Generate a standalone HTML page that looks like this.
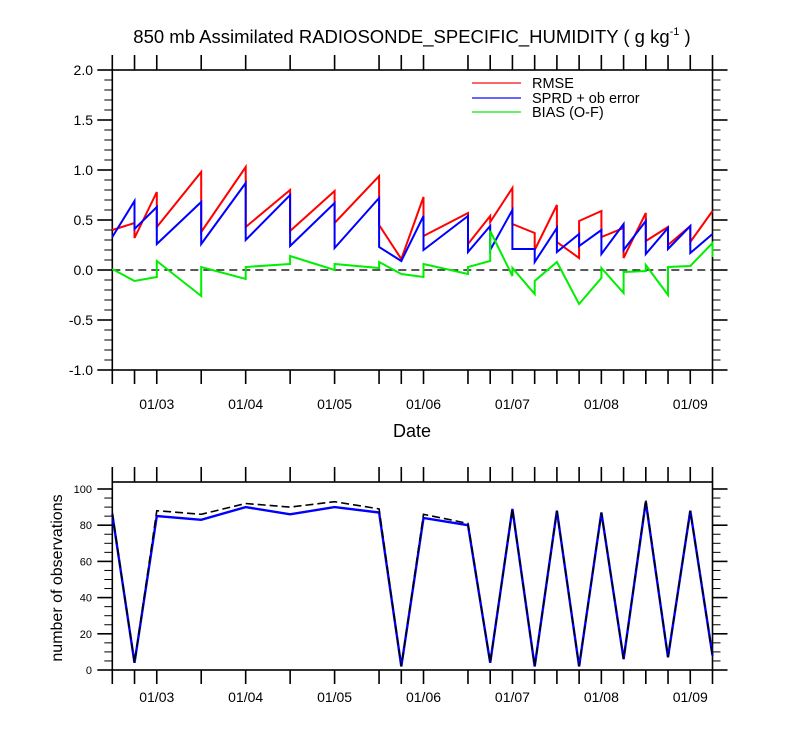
<!DOCTYPE html>
<html><head><meta charset="utf-8"><style>
body{margin:0;background:#fff;}
svg{display:block;font-family:"Liberation Sans",Arial,sans-serif;}
</style></head><body>
<svg id="chart" width="800" height="750" viewBox="0 0 800 750"></svg>
<script>
// times in days relative to 01/03 00Z
const times = [-0.5,-0.25,0,0.5,1.0,1.5,2.0,2.5,2.75,3.0,3.5,3.75,4.0,4.25,4.5,4.75,5.0,5.25,5.5,5.75,6.0,6.25];
const dateLabels = ["01/03","01/04","01/05","01/06","01/07","01/08","01/09"];
const dateDays = [0,1,2,3,4,5,6];
// [end value of previous bin, start value of next bin] per time
const rmseVals = [[0.40,0.40],[0.47,0.32],[0.78,0.43],[0.98,0.38],[1.03,0.43],[0.80,0.39],[0.79,0.47],[0.94,0.45],[0.11,0.11],[0.73,0.34],[0.57,0.26],[0.54,0.48],[0.82,0.46],[0.37,0.20],[0.65,0.28],[0.12,0.49],[0.59,0.33],[0.42,0.12],[0.57,0.29],[0.43,0.25],[0.44,0.28],[0.59,0.59]];
const sprdVals = [[0.33,0.33],[0.69,0.41],[0.63,0.26],[0.68,0.26],[0.87,0.30],[0.75,0.24],[0.67,0.22],[0.72,0.23],[0.09,0.09],[0.54,0.20],[0.54,0.18],[0.44,0.20],[0.60,0.21],[0.21,0.08],[0.42,0.18],[0.36,0.24],[0.40,0.16],[0.46,0.20],[0.49,0.16],[0.42,0.21],[0.44,0.17],[0.36,0.36]];
const biasVals = [[0.01,0.01],[-0.11,-0.11],[-0.07,0.09],[-0.26,0.03],[-0.09,0.03],[0.06,0.14],[0.00,0.06],[0.02,0.08],[-0.04,-0.04],[-0.07,0.06],[-0.04,0.03],[0.09,0.39],[-0.06,0.02],[-0.24,-0.11],[0.08,0.08],[-0.34,-0.34],[-0.08,0.02],[-0.23,-0.02],[-0.01,0.05],[-0.25,0.03],[0.04,0.04],[0.27,0.13]];
const obsUsed = [86,4,85,83,90,86,90,87,2,84,80,4,89,2,88,2,87,6,93,7,88,8];
const obsTotal = [87,4,88,86,92,90,93,89,2,86,81,4,89,2,88,2,87,6,94,7,88,8];
const topTicks = [2.0,1.5,1.0,0.5,0.0,-0.5,-1.0];
const obsTicks = [0,20,40,60,80,100];

const NS="http://www.w3.org/2000/svg";
const svg=document.getElementById('chart');
function el(tag,attrs,parent){const e=document.createElementNS(NS,tag);for(const k in attrs)e.setAttribute(k,attrs[k]);(parent||svg).appendChild(e);return e;}
const X0=112.3,X1=712.5,T0=-0.5,T1=6.25;
const xs=t=>X0+(t-T0)/(T1-T0)*(X1-X0);
const ty=v=>270-v*100;
const by=v=>670-v*1.81;

// title
let t=el('text',{x:412,y:43,'text-anchor':'middle','font-size':18.5,fill:'#000'});


t.innerHTML='850 mb Assimilated RADIOSONDE_SPECIFIC_HUMIDITY ( g kg<tspan font-size="11" dy="-8">-1</tspan><tspan dy="8"> )</tspan>';

function axesBox(top,bot,name){
  const g=el('g',{stroke:'#000','stroke-width':1.6,fill:'none'});
  
  
  el('rect',{x:X0,y:top,width:X1-X0,height:bot-top},g);
  times.forEach(tt=>{const x=xs(tt);el('line',{x1:x,y1:top,x2:x,y2:top-15},g);el('line',{x1:x,y1:bot,x2:x,y2:bot+14},g);});
  return g;
}
// top plot
const gTop=axesBox(70,370,'top-plot-frame');
for(let v=-1.0;v<=2.001;v+=0.1){const y=ty(v);const major=Math.abs(v*2-Math.round(v*2))<1e-6;const L=major?15:8;
  el('line',{x1:X0,y1:y,x2:X0-L,y2:y,'stroke-width':major?1.6:1},gTop);el('line',{x1:X1,y1:y,x2:X1+L,y2:y,'stroke-width':major?1.6:1},gTop);}
topTicks.forEach(v=>{const e=el('text',{x:93,y:ty(v)+5,'text-anchor':'end','font-size':14,fill:'#000'});
  
  
  e.textContent=v.toFixed(1);});
dateDays.forEach((d,i)=>{const e=el('text',{x:xs(d),y:409,'text-anchor':'middle','font-size':14,fill:'#000'});
  
  
  e.textContent=dateLabels[i];});
let dl=el('text',{x:412,y:437,'text-anchor':'middle','font-size':18,fill:'#000'});


dl.textContent='Date';
// zero line
let zl=el('line',{x1:X0,y1:ty(0),x2:X1,y2:ty(0),stroke:'#222','stroke-width':1.6,'stroke-dasharray':'8,5'});


function pairPath(vals,yf){let pts=[];times.forEach((tt,i)=>{pts.push([xs(tt),yf(vals[i][0])]);pts.push([xs(tt),yf(vals[i][1])]);});
  return pts.map((p,i)=>(i?'L':'M')+p[0].toFixed(1)+','+p[1].toFixed(1)).join('');}
let p=el('path',{d:pairPath(rmseVals,ty),stroke:'#ff0000','stroke-width':2,fill:'none'});


p=el('path',{d:pairPath(sprdVals,ty),stroke:'#0000ff','stroke-width':2,fill:'none'});


p=el('path',{d:pairPath(biasVals,ty),stroke:'#00ee00','stroke-width':2,fill:'none'});


// legend
[['RMSE','#ff3333',83],['SPRD + ob error','#3333ff',98],['BIAS (O-F)','#33ee33',112]].forEach(l=>{
  const g=el('g',{});
  
  
  el('line',{x1:472,y1:l[2],x2:521,y2:l[2],stroke:l[1],'stroke-width':1.6},g);
  const tx=el('text',{x:532,y:l[2]+5,'font-size':14.5,fill:'#000'},g);tx.textContent=l[0];});

// bottom plot
const gB=axesBox(482,670,'bottom-plot-frame');
for(let v=0;v<=104;v+=5){const y=by(v);const major=v%20===0;const L=major?15:8;
  el('line',{x1:X0,y1:y,x2:X0-L,y2:y,'stroke-width':major?1.6:1},gB);el('line',{x1:X1,y1:y,x2:X1+L,y2:y,'stroke-width':major?1.6:1},gB);}
obsTicks.forEach(v=>{const e=el('text',{x:92,y:by(v)+4,'text-anchor':'end','font-size':11,fill:'#000'});
  
  
  e.textContent=v;});
dateDays.forEach((d,i)=>{const e=el('text',{x:xs(d),y:702,'text-anchor':'middle','font-size':14,fill:'#000'});
  
  
  e.textContent=dateLabels[i];});
let yt=el('text',{x:62,y:578,'text-anchor':'middle','font-size':16,fill:'#000',transform:'rotate(-90 62 578)'});


yt.textContent='number of observations';
function linePath(vals){return vals.map((v,i)=>(i?'L':'M')+xs(times[i]).toFixed(1)+','+by(v).toFixed(1)).join('');}
p=el('path',{d:linePath(obsUsed),stroke:'#0000ff','stroke-width':2.4,fill:'none'});


p=el('path',{d:linePath(obsTotal),stroke:'#000','stroke-width':1.6,fill:'none','stroke-dasharray':'8,4'});


</script>
</body></html>
